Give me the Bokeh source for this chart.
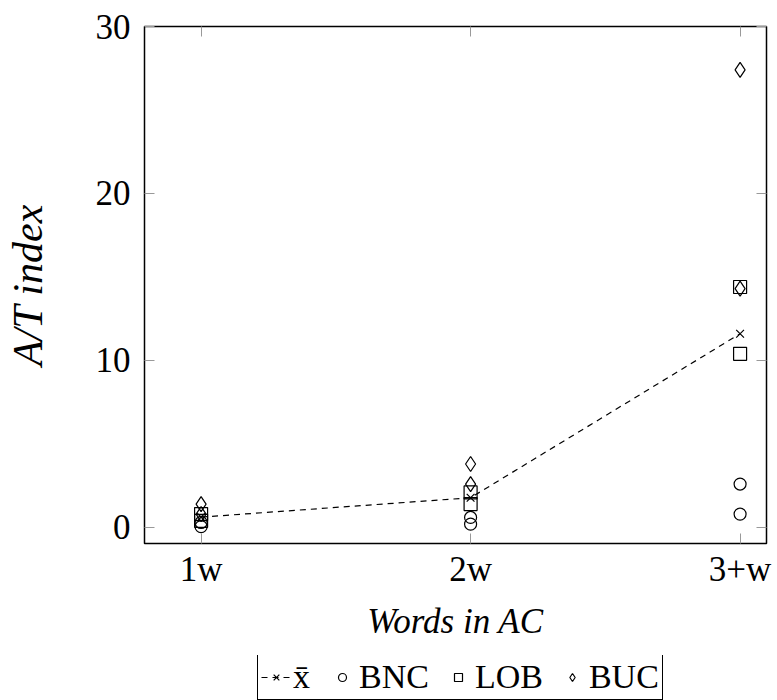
from bokeh.plotting import figure
from bokeh.layouts import column
from bokeh.models import (Range1d, FixedTicker, LinearAxis, Legend, LegendItem,
                          ColumnDataSource)
from bokeh.embed import file_html
from bokeh.resources import INLINE

categories = ["1w", "2w", "3+w"]
bnc_vals = [[0.3, 0.05], [0.6, 0.2], [2.6, 0.8]]
lob_vals = [[0.8, 0.4], [2.1, 1.4], [14.4, 10.4]]
buc_vals = [[1.4, 0.8], [3.8, 2.6], [27.4, 14.3]]
mean_vals = [0.62, 1.78, 11.6]
y_ticks = [0, 10, 20, 30]
legend_labels = ["x̄", "BNC", "LOB", "BUC"]

FONT = "Liberation Serif"

xpos = list(range(len(categories)))

def flat(vals):
    xs, ys = [], []
    for i, vs in enumerate(vals):
        for v in vs:
            xs.append(xpos[i]); ys.append(v)
    return ColumnDataSource(dict(x=xs, y=ys))

p = figure(width=777, height=655, output_backend="svg", toolbar_location=None,
           x_range=Range1d(-0.21, 2.098), y_range=Range1d(-0.96, 30),
           min_border_left=144, min_border_right=11, min_border_top=26,
           min_border_bottom=112)
p.grid.visible = False
p.outline_line_color = "black"
p.outline_line_width = 1.5

def style_axis(ax):
    ax.axis_line_color = None
    ax.major_tick_in = 10
    ax.major_tick_out = 0
    ax.minor_tick_in = 0
    ax.minor_tick_out = 0
    ax.major_tick_line_color = "#999999"
    ax.major_tick_line_width = 1
    ax.major_label_text_font = FONT
    ax.major_label_text_font_size = "35px"
    ax.major_label_text_color = "black"
    ax.axis_label_text_font = FONT
    ax.axis_label_text_font_style = "italic"
    ax.axis_label_text_font_size = "35px"
    ax.axis_label_text_color = "black"

xa = p.xaxis[0]
xa.ticker = FixedTicker(ticks=xpos)
xa.major_label_overrides = {i: c for i, c in zip(xpos, categories)}
xa.axis_label = "Words in AC"
style_axis(xa)
xa.major_label_standoff = 6
xa.axis_label_standoff = 10

ya = p.yaxis[0]
ya.ticker = FixedTicker(ticks=y_ticks)
ya.axis_label = "A/T index"
style_axis(ya)
ya.axis_label_text_font_size = "42px"
ya.major_label_standoff = 14
ya.axis_label_standoff = 42

ra = LinearAxis(ticker=FixedTicker(ticks=y_ticks))
style_axis(ra)
ra.major_label_overrides = {t: "" for t in y_ticks}
p.add_layout(ra, "right")
ta = LinearAxis(ticker=FixedTicker(ticks=xpos))
style_axis(ta)
ta.major_label_overrides = {t: "" for t in xpos}
p.add_layout(ta, "above")

LINE = dict(line_color="black", line_dash="6 5", line_width=1.2)
MEAN = dict(marker="x", line_color="black", line_width=1.2)
OPEN = dict(fill_color="white", fill_alpha=0, line_color="black", line_width=1.2)

mean_src = ColumnDataSource(dict(x=xpos, y=mean_vals))
bnc_src = flat(bnc_vals)
lob_src = flat(lob_vals)
buc_src = flat(buc_vals)

p.line("x", "y", source=mean_src, **LINE)
p.scatter("x", "y", source=mean_src, size=11, **MEAN)
p.scatter("x", "y", source=bnc_src, marker="circle", size=12, **OPEN)
p.scatter("x", "y", source=lob_src, marker="square", size=13, **OPEN)
p.scatter("x", "y", source=buc_src, marker="diamond", size=15, **OPEN)

# legend strip below the plot (same sources, view range far from the data)
lf = figure(width=777, height=45, output_backend="svg", toolbar_location=None,
            x_range=Range1d(100, 101), y_range=Range1d(100, 101),
            min_border_left=0, min_border_right=0, min_border_top=0,
            min_border_bottom=0)
lf.axis.visible = False
lf.grid.visible = False
lf.outline_line_color = None
l1 = lf.line("x", "y", source=mean_src, **LINE)
l2 = lf.scatter("x", "y", source=mean_src, size=10, **MEAN)
l3 = lf.scatter("x", "y", source=bnc_src, marker="circle", size=11, **OPEN)
l4 = lf.scatter("x", "y", source=lob_src, marker="square", size=12, **OPEN)
l5 = lf.scatter("x", "y", source=buc_src, marker="diamond", size=16, **OPEN)

legend = Legend(items=[
    LegendItem(label=legend_labels[0], renderers=[l1, l2]),
    LegendItem(label=legend_labels[1], renderers=[l3]),
    LegendItem(label=legend_labels[2], renderers=[l4]),
    LegendItem(label=legend_labels[3], renderers=[l5]),
], orientation="horizontal", location=(113, 0))
legend.label_text_font = FONT
legend.label_text_font_size = "34px"
legend.label_text_color = "black"
legend.label_standoff = 2
legend.spacing = 14
legend.glyph_width = 30
legend.glyph_height = 20
legend.padding = 3
legend.margin = 0
legend.border_line_color = "black"
legend.border_line_width = 1.2
legend.border_line_alpha = 1
legend.background_fill_alpha = 1
lf.add_layout(legend, "center")

layout = column(p, lf, spacing=0)
open("out.html", "w").write(file_html(layout, INLINE))
